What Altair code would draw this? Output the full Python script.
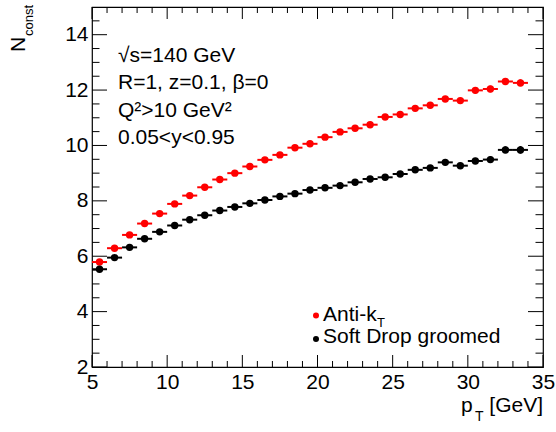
import altair as alt
import pandas as pd

# ---- data ----
pt = [5.5, 6.5, 7.5, 8.5, 9.5, 10.5, 11.5, 12.5, 13.5, 14.5, 15.5, 16.5, 17.5, 18.5, 19.5,
      20.5, 21.5, 22.5, 23.5, 24.5, 25.5, 26.5, 27.5, 28.5, 29.5, 30.5, 31.5, 32.5, 33.5]
antikt = [5.79, 6.29, 6.77, 7.18, 7.54, 7.89, 8.19, 8.49, 8.77, 9.00, 9.24, 9.48, 9.66, 9.92, 10.06,
          10.30, 10.49, 10.62, 10.75, 11.03, 11.12, 11.34, 11.45, 11.68, 11.62, 11.99, 12.04, 12.31, 12.26]
softdrop = [5.53, 5.95, 6.32, 6.63, 6.88, 7.11, 7.32, 7.48, 7.65, 7.78, 7.91, 8.03, 8.16, 8.26, 8.39,
            8.47, 8.55, 8.67, 8.79, 8.85, 8.97, 9.12, 9.19, 9.39, 9.27, 9.44, 9.49, 9.84, 9.84]
antikt_err = [0.02, 0.02, 0.02, 0.02, 0.02, 0.03, 0.03, 0.03, 0.03, 0.04, 0.04, 0.04, 0.05, 0.05, 0.05,
              0.06, 0.06, 0.07, 0.07, 0.08, 0.08, 0.09, 0.09, 0.10, 0.10, 0.11, 0.12, 0.12, 0.13]
softdrop_err = [0.02, 0.02, 0.02, 0.02, 0.02, 0.03, 0.03, 0.03, 0.03, 0.04, 0.04, 0.04, 0.05, 0.05, 0.05,
                0.06, 0.06, 0.07, 0.07, 0.08, 0.08, 0.09, 0.09, 0.10, 0.10, 0.11, 0.12, 0.13, 0.14]
bin_half_width = 0.5
series_names = ["Anti-k", "Soft Drop groomed"]
series_colors = ["#ff0000", "#000000"]

x_major = [5, 10, 15, 20, 25, 30, 35]
x_minor = [6, 7, 8, 9, 11, 12, 13, 14, 16, 17, 18, 19, 21, 22, 23, 24, 26, 27, 28, 29, 31, 32, 33, 34]
y_major = [2, 4, 6, 8, 10, 12, 14]
y_minor = [2.5, 3, 3.5, 4.5, 5, 5.5, 6.5, 7, 7.5, 8.5, 9, 9.5, 10.5, 11, 11.5, 12.5, 13, 13.5, 14.5]

notes = ["√s=140 GeV", "R=1, z=0.1, β=0", "Q²>10 GeV²", "0.05<y<0.95"]

W, H = 451, 360
FONT = "Liberation Sans"

xs = alt.Scale(domain=[5, 35], nice=False, zero=False)
ys = alt.Scale(domain=[2, 15], nice=False, zero=False)

rows = []
for name, vals, errs in [(series_names[0], antikt, antikt_err), (series_names[1], softdrop, softdrop_err)]:
    for p, v, e in zip(pt, vals, errs):
        rows.append({"series": name, "pt": p, "n": v, "err": e})
df = pd.DataFrame(rows)

color = alt.Color("series:N", scale=alt.Scale(domain=series_names, range=series_colors), legend=None)

base = alt.Chart(df).transform_calculate(
    lo=f"datum.pt - {bin_half_width}", hi=f"datum.pt + {bin_half_width}",
    ylo="datum.n - datum.err", yhi="datum.n + datum.err")

xaxis = alt.Axis(values=x_major, labelFontSize=21, labelFont=FONT, labelColor="black", tickSize=0,
                 domain=False, grid=False, title=None, labelPadding=4, labelFlush=False)
yaxis = alt.Axis(values=y_major, labelFontSize=21, labelFont=FONT, labelColor="black", tickSize=0,
                 domain=False, grid=False, title=None, labelPadding=4, labelFlush=False)

hbars = base.mark_rule(strokeWidth=2).encode(
    x=alt.X("lo:Q", scale=xs, axis=xaxis), x2="hi:Q",
    y=alt.Y("n:Q", scale=ys, axis=yaxis), color=color)
vbars = base.mark_rule(strokeWidth=2).encode(
    x=alt.X("pt:Q", scale=xs), y=alt.Y("ylo:Q", scale=ys), y2="yhi:Q", color=color)
points = base.mark_circle(size=55, opacity=1).encode(
    x=alt.X("pt:Q", scale=xs), y=alt.Y("n:Q", scale=ys), color=color)

# ---- inward ticks (ROOT style) on all four sides ----
def xticks(vals, length):
    d = pd.DataFrame({"v": vals})
    bot = alt.Chart(d).mark_rule(color="black", strokeWidth=1).encode(
        x=alt.X("v:Q", scale=xs), y=alt.value(H), y2=alt.value(H - length))
    top = alt.Chart(d).mark_rule(color="black", strokeWidth=1).encode(
        x=alt.X("v:Q", scale=xs), y=alt.value(0), y2=alt.value(length))
    return [bot, top]

def yticks(vals, length):
    d = pd.DataFrame({"v": vals})
    left = alt.Chart(d).mark_rule(color="black", strokeWidth=1).encode(
        y=alt.Y("v:Q", scale=ys), x=alt.value(0), x2=alt.value(length))
    right = alt.Chart(d).mark_rule(color="black", strokeWidth=1).encode(
        y=alt.Y("v:Q", scale=ys), x=alt.value(W - length), x2=alt.value(W))
    return [left, right]

ticks = xticks(x_major, 12) + xticks(x_minor, 6) + yticks(y_major, 15) + yticks(y_minor, 7.5)

def txt(s, x, y, size=21, align="left", angle=0, color="black"):
    kw = dict(align=align, baseline="alphabetic", fontSize=size, font=FONT, color=color)
    if angle:
        kw["angle"] = angle
    return alt.Chart(pd.DataFrame({"t": [s]})).mark_text(**kw).encode(
        text="t:N", x=alt.value(x), y=alt.value(y))

labels = []
for i, s in enumerate(notes):
    labels.append(txt(s, 26, 55 + 27.3 * i))

# legend
leg_pts = []
for name, col, yy in zip(series_names, series_colors, [308.5, 332]):
    leg_pts.append(alt.Chart(pd.DataFrame({"series": [name]})).mark_circle(
        size=36, opacity=1, color=col).encode(x=alt.value(224), y=alt.value(yy)))
labels += [txt(series_names[0], 231, 314), txt("T", 285, 319.5, size=13),
           txt(series_names[1], 231, 336)]

# axis titles
labels += [txt("p", 369, 405), txt("T", 383, 414, size=14), txt("[GeV]", 451, 405, align="right")]
labels += [txt("N", -67, 45, size=21, angle=270), txt("const", -59, 29, size=13, angle=270)]

chart = alt.layer(hbars, vbars, points, *ticks, *leg_pts, *labels).properties(
    width=W, height=H,
    padding={"left": 92, "top": 7, "right": 13, "bottom": 65},
    autosize="none",
    background="white",
).configure_view(stroke="black", strokeWidth=1.2)

chart.save("out.html", embed_options={"renderer": "svg", "actions": False})
